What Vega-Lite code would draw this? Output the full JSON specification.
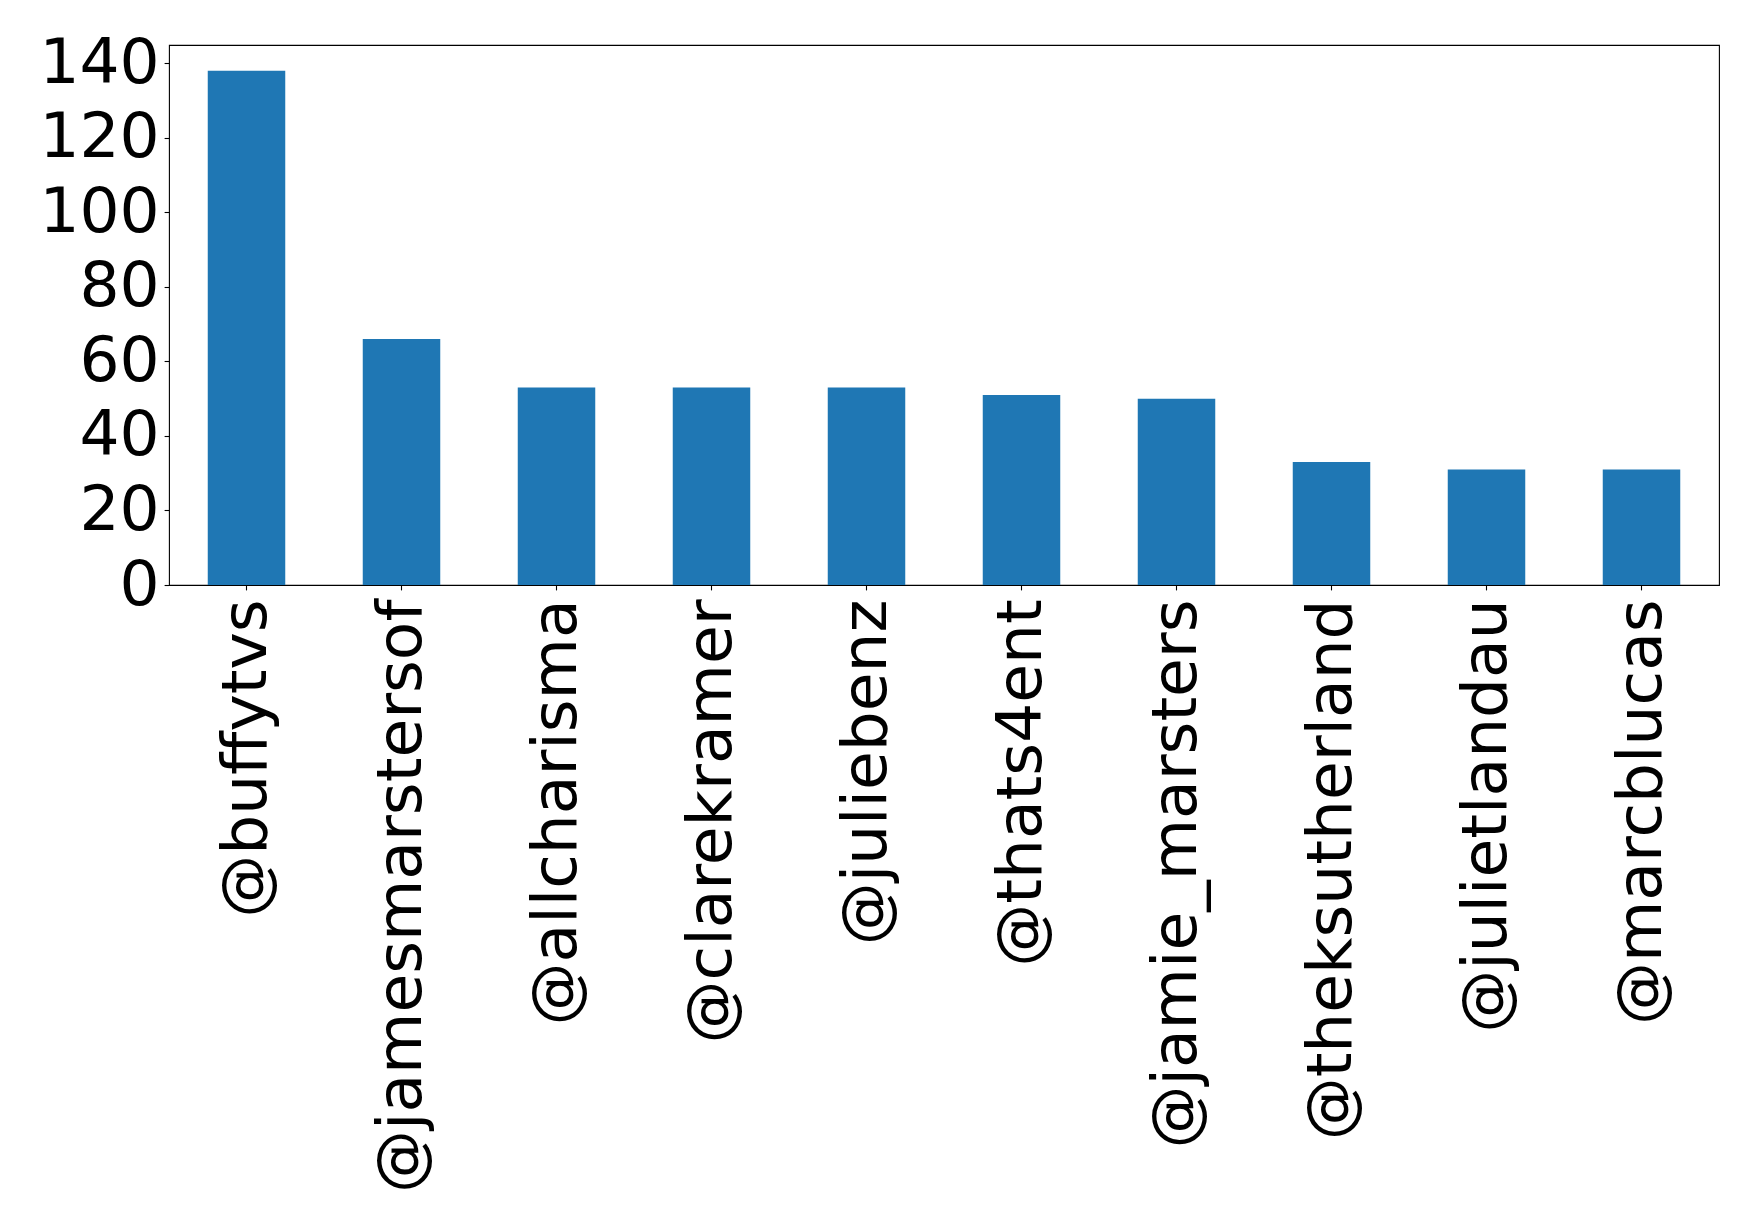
{
  "$schema": "https://vega.github.io/schema/vega-lite/v6.json",
  "autosize": {"type": "none"},
  "width": 1550,
  "height": 540,
  "padding": {"left": 169, "top": 45, "right": 39, "bottom": 637},
  "background": "white",
  "config": {
    "font": "DejaVu Sans",
    "view": {"stroke": "black", "strokeWidth": 1.1},
    "axis": {
      "grid": false,
      "domain": false,
      "ticks": true,
      "tickColor": "black",
      "tickWidth": 1.1,
      "tickSize": 4.9,
      "labelPadding": 4.9,
      "labelColor": "black",
      "labelFont": "DejaVu Sans",
      "labelFontSize": 63,
      "labelLimit": 0,
      "title": null
    }
  },
  "data": {
    "values": [
      {"user": "@buffytvs", "count": 138},
      {"user": "@jamesmarstersof", "count": 66},
      {"user": "@allcharisma", "count": 53},
      {"user": "@clarekramer", "count": 53},
      {"user": "@juliebenz", "count": 53},
      {"user": "@thats4ent", "count": 51},
      {"user": "@jamie_marsters", "count": 50},
      {"user": "@theksutherland", "count": 33},
      {"user": "@julietlandau", "count": 31},
      {"user": "@marcblucas", "count": 31}
    ]
  },
  "mark": {"type": "bar", "color": "#1f77b4"},
  "encoding": {
    "x": {
      "field": "user",
      "type": "nominal",
      "sort": null,
      "scale": {"paddingInner": 0.5, "paddingOuter": 0.25},
      "axis": {"labelAngle": -90, "labelAlign": "right", "labelBaseline": "middle", "labelPadding": 9}
    },
    "y": {
      "field": "count",
      "type": "quantitative",
      "scale": {"domain": [0, 144.9], "nice": false, "zero": true},
      "axis": {"values": [0, 20, 40, 60, 80, 100, 120, 140], "labelBaseline": "middle"}
    }
  }
}
